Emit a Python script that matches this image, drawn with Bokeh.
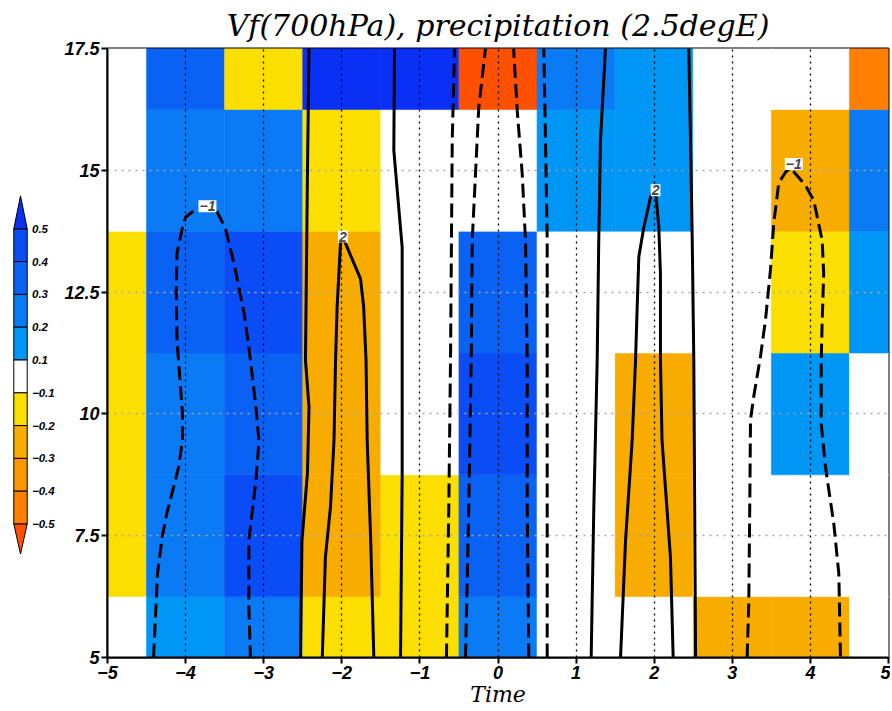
import numpy as np
from bokeh.plotting import figure
from bokeh.layouts import row
from bokeh.models import (LinearColorMapper, ColumnDataSource, Label, FixedTicker, Range1d)
from bokeh.transform import transform
from bokeh.embed import file_html
from bokeh.resources import INLINE

# ---------------- data ----------------
times = [-5, -4, -3, -2, -1, 0, 1, 2, 3, 4, 5]
heights = [5.0, 7.5, 10.0, 12.5, 15.0, 17.5]

precip_h5 = [0.0, 0.15, 0.25, -0.15, -0.15, 0.25, 0.0, 0.0, -0.25, -0.25, 0.0]
precip_h7_5 = [-0.15, 0.25, 0.45, -0.25, -0.15, 0.35, 0.0, -0.25, 0.0, 0.0, 0.0]
precip_h10 = [-0.15, 0.25, 0.35, -0.25, 0.0, 0.45, 0.0, -0.25, 0.0, 0.15, 0.0]
precip_h12_5 = [-0.15, 0.35, 0.45, -0.25, 0.0, 0.35, 0.0, 0.0, 0.0, -0.15, 0.15]
precip_h15 = [0.0, 0.25, 0.25, -0.15, 0.0, 0.0, 0.15, 0.15, 0.0, -0.25, 0.25]
precip_h17_5 = [0.0, 0.35, -0.15, 0.6, 0.6, -0.6, 0.25, 0.15, 0.0, 0.0, -0.45]

levels = [-0.5, -0.4, -0.3, -0.2, -0.1, 0.1, 0.2, 0.3, 0.4, 0.5]
level_labels = ["\u22120.5", "\u22120.4", "\u22120.3", "\u22120.2", "\u22120.1",
                "0.1", "0.2", "0.3", "0.4", "0.5"]
bin_palette = ["#ff8000", "#fa9600", "#f8ac00", "#fadf00", "#ffffff",
               "#ffffff", "#0096f5", "#0a7af5", "#0a62f5", "#0a4cf5"]
low_color = "#ff5000"
high_color = "#0a30f5"

x_ticks = [-5, -4, -3, -2, -1, 0, 1, 2, 3, 4, 5]
x_tick_labels = ["\u22125", "\u22124", "\u22123", "\u22122", "\u22121", "0", "1", "2", "3", "4", "5"]
y_ticks = [5, 7.5, 10, 12.5, 15, 17.5]
y_tick_labels = ["5", "7.5", "10", "12.5", "15", "17.5"]

# contours of Vf (700hPa)
vfA_x = [-4.41, -4.36, -4.30, -4.24, -4.09, -4.04, -4.04, -4.11, -4.12, -4.11, -4.04, -4.00, -3.90,
         -3.72, -3.62, -3.49, -3.37, -3.25, -3.19, -3.10, -3.06, -3.10, -3.19, -3.19, -3.17]
vfA_y = [5.0, 6.72, 7.47, 7.96, 8.90, 9.46, 10.01, 11.51, 12.53, 13.30, 13.83, 14.04, 14.16,
         14.26, 14.22, 13.81, 13.01, 12.06, 11.37, 10.14, 9.45, 8.63, 7.40, 6.03, 5.0]
vfB_x = [-2.53, -2.51, -2.44, -2.42, -2.465, -2.44, -2.42]
vfB_y = [5.0, 7.40, 8.78, 10.14, 11.1, 14.93, 17.5]
vfC_x = [-2.25, -2.21, -2.145, -2.10, -2.08, -2.06, -2.017, -1.987, -1.95, -1.76, -1.72, -1.69,
         -1.675, -1.63, -1.59]
vfC_y = [5.0, 7.06, 8.09, 9.46, 11.10, 12.19, 13.49, 13.64, 13.49, 12.77, 12.19, 11.10, 9.46, 7.40, 5.0]
vfD_x = [-1.248, -1.227, -1.227, -1.227, -1.334, -1.325]
vfD_y = [5.0, 8.78, 11.1, 13.42, 15.41, 17.5]
vfE_x = [-0.66, -0.63, -0.608, -0.586, -0.557]
vfE_y = [5.0, 8.09, 11.1, 15.61, 17.5]
vfF_x = [-0.416, -0.374, -0.343, -0.33, -0.288, -0.246, -0.16]
vfF_y = [5.0, 8.09, 11.10, 13.56, 14.93, 16.30, 17.5]
vfG_x = [0.394, 0.374, 0.374, 0.352, 0.31, 0.246, 0.20]
vfG_y = [5.0, 8.09, 11.10, 13.56, 14.93, 16.23, 17.5]
vfH_x = [0.63, 0.63, 0.608, 0.586]
vfH_y = [5.0, 13.56, 15.61, 17.5]
vfI_x = [1.193, 1.227, 1.27, 1.29, 1.312, 1.376]
vfI_y = [5.0, 8.09, 11.10, 13.56, 15.61, 17.5]
vfK_x = [1.569, 1.633, 1.718, 1.761, 1.782, 1.803, 1.867, 1.953, 1.99, 2.025, 2.059, 2.08, 2.08,
         2.10, 2.208, 2.243]
vfK_y = [5.0, 7.40, 9.46, 11.10, 12.19, 13.22, 13.83, 14.45, 14.6, 14.45, 13.83, 12.88, 11.10,
         9.46, 7.06, 5.0]
vfJ_x = [2.53, 2.507, 2.487, 2.465, 2.443]
vfJ_y = [5.0, 11.10, 13.56, 15.61, 17.5]
vfL_x = [3.19, 3.211, 3.224, 3.233, 3.275, 3.361, 3.425, 3.489, 3.531, 3.595, 3.681, 3.745, 3.809,
         3.937, 4.043, 4.151, 4.17, 4.15, 4.138, 4.138, 4.193, 4.30, 4.364, 4.385]
vfL_y = [5.0, 6.11, 8.17, 9.88, 10.36, 11.18, 11.93, 12.96, 13.92, 14.74, 14.96, 15.05, 14.93,
         14.69, 14.38, 13.56, 12.87, 11.85, 11.10, 9.80, 8.91, 7.74, 6.72, 5.0]

solid_xs = [vfB_x, vfC_x, vfD_x, vfI_x, vfK_x, vfJ_x]
solid_ys = [vfB_y, vfC_y, vfD_y, vfI_y, vfK_y, vfJ_y]
dashed_xs = [vfA_x, vfE_x, vfF_x, vfG_x, vfH_x, vfL_x]
dashed_ys = [vfA_y, vfE_y, vfF_y, vfG_y, vfH_y, vfL_y]

contour_label_text = ["\u22121", "2", "2", "\u22121"]
contour_label_x = [-3.72, -1.987, 2.017, 3.787]
contour_label_y = [14.26, 13.64, 14.59, 15.13]

# ---------------- main figure ----------------
p = figure(width=832, height=711, x_range=(-5, 5), y_range=(5, 17.5),
           output_backend="svg", toolbar_location=None,
           min_border_left=49, min_border_right=2, min_border_top=48, min_border_bottom=54)
p.background_fill_color = "white"
p.border_fill_color = "white"

p.title.text = "Vf(700hPa), precipitation (2.5degE)"
p.title.text_font = "DejaVu Serif"
p.title.text_font_style = "italic"
p.title.text_font_size = "30px"
p.title.align = "center"
p.title.text_color = "black"
p.title.standoff = 11

mapper = LinearColorMapper(palette=bin_palette, low=-0.5, high=0.5,
                           low_color=low_color, high_color=high_color)

cx, cy, cv = [], [], []
for h, vals in zip(heights, [precip_h5, precip_h7_5, precip_h10, precip_h12_5, precip_h15, precip_h17_5]):
    for t, v in zip(times, vals):
        cx.append(t)
        cy.append(h)
        cv.append(v)
src = ColumnDataSource(dict(x=cx, y=cy, v=cv))
p.rect(x="x", y="y", width=1, height=2.5, source=src,
       fill_color=transform("v", mapper), line_color=transform("v", mapper),
       line_width=0.6, level="image")

# grid
p.xgrid.ticker = FixedTicker(ticks=x_ticks[1:-1])
p.xgrid.grid_line_color = "black"
p.xgrid.grid_line_dash = "2 4"
p.xgrid.grid_line_width = 1.3
p.ygrid.ticker = FixedTicker(ticks=y_ticks[1:-1])
p.ygrid.grid_line_color = "#a8a8a8"
p.ygrid.grid_line_dash = "2 5"
p.ygrid.grid_line_width = 1.3
p.xgrid.level = "underlay"
p.ygrid.level = "underlay"

# contours
p.multi_line(xs=solid_xs, ys=solid_ys, line_color="black", line_width=3)
p.multi_line(xs=dashed_xs, ys=dashed_ys, line_color="black", line_width=3, line_dash="14 6")

for t, lx, ly in zip(contour_label_text, contour_label_x, contour_label_y):
    p.add_layout(Label(x=lx, y=ly, text=t, text_align="center", text_baseline="middle",
                       text_font="Liberation Sans", text_font_style="bold italic",
                       text_font_size="14px", background_fill_color="white", padding=1))

# axes
for ax in (p.xaxis[0], p.yaxis[0]):
    ax.axis_line_width = 2
    ax.axis_line_color = "black"
    ax.major_tick_line_width = 2
    ax.major_tick_out = 6
    ax.major_tick_in = 0
    ax.minor_tick_out = 0
    ax.minor_tick_in = 0
    ax.major_label_text_font = "Liberation Sans"
    ax.major_label_text_font_style = "bold italic"
    ax.major_label_text_font_size = "18px"
    ax.major_label_text_color = "black"
p.xaxis.ticker = FixedTicker(ticks=x_ticks)
p.xaxis.major_label_overrides = {t: l for t, l in zip(x_ticks, x_tick_labels)}
p.yaxis.ticker = FixedTicker(ticks=y_ticks)
p.yaxis.major_label_overrides = {t: l for t, l in zip(y_ticks, y_tick_labels)}
p.xaxis.major_label_standoff = 2
p.yaxis.major_label_standoff = 2
p.xaxis.axis_label = "Time"
p.xaxis.axis_label_text_font = "DejaVu Serif"
p.xaxis.axis_label_text_font_style = "italic"
p.xaxis.axis_label_text_font_size = "22px"
p.xaxis.axis_label_standoff = 0
p.xaxis.axis_label_text_color = "black"

p.outline_line_color = "black"
p.outline_line_width = 2
p.outline_line_alpha = 1

# ---------------- colour bar figure (page-pixel coordinates, y downwards) ----------------
# the row layout aligns this figure's frame with the main frame (page y 48..657)
cb = figure(width=58, height=711, x_range=Range1d(0, 58), y_range=Range1d(657, 48),
            output_backend="svg", toolbar_location=None, title=None,
            x_axis_type=None, y_axis_type=None,
            min_border_left=0, min_border_right=0, min_border_top=48, min_border_bottom=54)
cb.outline_line_color = None
cb.background_fill_color = "white"
cb.border_fill_color = "white"
cb.xgrid.visible = False
cb.ygrid.visible = False

cb_left, cb_right = 13.3, 26.7
cb_top = 228.3
seg_h = 32.8
nseg = len(levels) - 1
seg_top, seg_bot, seg_col = [], [], []
for i in range(nseg):
    lo, hi = levels[nseg - 1 - i], levels[nseg - i]
    mid = 0.5 * (lo + hi)
    idx = int(np.floor((mid - mapper.low) / 0.1))
    seg_col.append(bin_palette[idx])
    seg_top.append(cb_top + i * seg_h)
    seg_bot.append(cb_top + (i + 1) * seg_h)
cb.quad(left=cb_left, right=cb_right, top=seg_top, bottom=seg_bot,
        fill_color=seg_col, line_color="black", line_width=1)
cb_bottom = cb_top + nseg * seg_h
cx_mid = 0.5 * (cb_left + cb_right)
cb.patches(xs=[[cb_left, cx_mid, cb_right], [cb_left, cx_mid, cb_right]],
           ys=[[cb_top, cb_top - 33, cb_top], [cb_bottom, cb_bottom + 30, cb_bottom]],
           fill_color=[high_color, low_color], line_color="black", line_width=1)
cb.text(x=[31.5] * len(levels), y=[cb_top + i * seg_h for i in range(len(levels))],
        text=level_labels[::-1], text_align="left", text_baseline="middle",
        text_font_size="11.5px", text_font_style="bold italic", text_color="black",
        text_font={"value": "Liberation Sans"})

layout = row(cb, p)
open("out.html", "w").write(file_html(layout, INLINE))
